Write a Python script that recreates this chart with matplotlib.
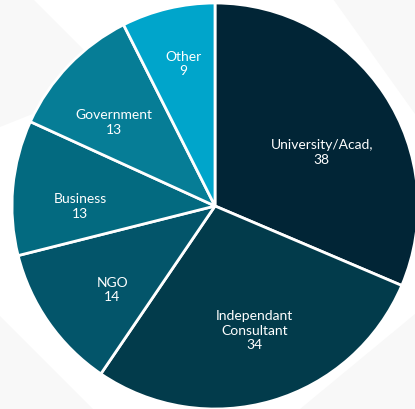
import numpy as np
import matplotlib.pyplot as plt
from matplotlib.patches import Polygon

categories = ['University/Acad,', 'Independant\nConsultant', 'NGO', 'Business', 'Government', 'Other']
counts = [38, 34, 14, 13, 13, 9]
colors = ['#012536', '#023b4b', '#03556a', '#036a80', '#067d96', '#00a5cb']

# label placement along each wedge: radius fraction and angle nudge (deg)
label_r = [0.59, 0.64, 0.65, 0.665, 0.65, 0.72]
label_da = [-6.5, 1.5, 4, 5, 4, -1]

W, H = 415, 410
fig = plt.figure(figsize=(W / 100, H / 100), dpi=100)
ax = fig.add_axes([0, 0, 1, 1])

# faint background chevrons
bg = '#f8f8f8'
for pts in [
    [(0, H), (33, H), (115, H - 82), (0, H - 128)],
    [(0, H - 317), (93, 0), (0, 0)],
    [(300, 0), (415, 95), (415, 0)],
    [(333, H), (415, H), (415, H - 115)],
]:
    ax.add_patch(Polygon(pts, closed=True, facecolor=bg, edgecolor='none', zorder=0))

cx, cy, R = 215, H - 207, 203
wedges, _ = ax.pie(counts, colors=colors, startangle=90, counterclock=False,
                   center=(cx, cy), radius=R, frame=True,
                   wedgeprops=dict(edgecolor='white', linewidth=2.0))
ax.set_xlim(0, W)
ax.set_ylim(0, H)
ax.set_aspect('equal')
ax.axis('off')

for w, name, n, rf, da in zip(wedges, categories, counts, label_r, label_da):
    mid = np.deg2rad((w.theta1 + w.theta2) / 2 + da)
    x = cx + rf * R * np.cos(mid)
    y = cy + rf * R * np.sin(mid)
    ax.text(x, y, f'{name}\n{n}', ha='center', va='center', color='white',
            fontsize=10, family='Lato', linespacing=1.25, zorder=5)

fig.savefig('out.png', dpi=100, facecolor='white')
